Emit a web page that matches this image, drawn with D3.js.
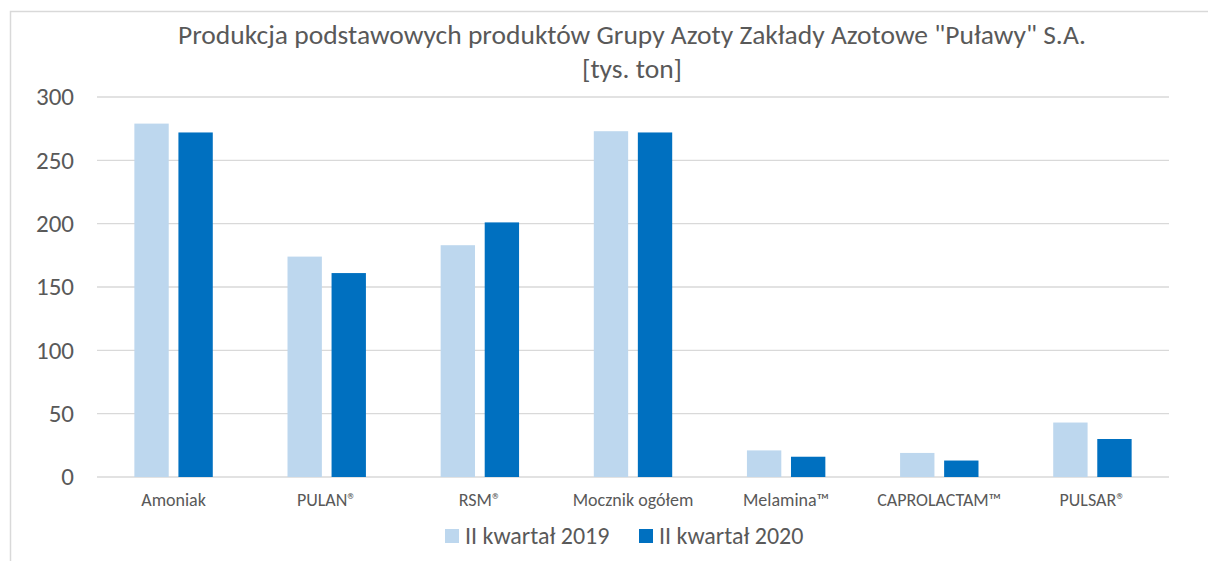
<!DOCTYPE html>
<html><head><meta charset="utf-8">
<script src="https://cdn.jsdelivr.net/npm/d3@7"></script>
<style>
body{margin:0;background:#fff;}
svg{display:block;font-family:Carlito,"Liberation Sans Narrow","Open Sans",sans-serif;}
</style></head><body>
<svg id="c" width="1208" height="561"></svg>
<script>
const categories = ["Amoniak","PULAN®","RSM®","Mocznik ogółem","Melamina™","CAPROLACTAM™","PULSAR®"];
const series2019 = [279,174,183,273,21,19,43];
const series2020 = [272,161,201,272,16,13,30];
const seriesNames = ["II kwartał 2019","II kwartał 2020"];
const colors = ["#BDD7EE","#0070C0"];
const yTicks = [0,50,100,150,200,250,300];
const titleLines = ['Produkcja podstawowych produktów Grupy Azoty Zakłady Azotowe "Puławy" S.A.','[tys. ton]'];

(function(){
const svg = d3.select("#c");
svg.append("path").attr("d","M10.5,561 V11.5 H1208").attr("fill","none").attr("stroke","#D9D9D9").attr("stroke-width",1.5);

const pL=97, pR=1169, pT=97, pB=477;
const x0 = d3.scaleBand().domain(categories).range([pL,pR]);
const bw = x0.bandwidth();
const x1 = d3.scaleBand().domain([0,1]).range([0.244*bw,0.756*bw]).paddingInner(0.22);
const y = d3.scaleLinear().domain([0,300]).range([pB,pT]);

svg.append("g").selectAll("line").data(yTicks).join("line")
  .attr("x1",pL).attr("x2",pR).attr("y1",d=>y(d)).attr("y2",d=>y(d))
  .attr("stroke","#D9D9D9").attr("stroke-width",1.3);

svg.append("g").selectAll("text").data(yTicks).join("text")
  .attr("x",74).attr("y",d=>y(d)).attr("dy","0.33em").attr("text-anchor","end")
  .attr("font-size",25).attr("fill","#595959").text(d=>d);

[series2019, series2020].forEach((vals,si)=>{
  svg.append("g").selectAll("rect").data(vals).join("rect")
    .attr("x",(d,i)=>x0(categories[i])+x1(si))
    .attr("width",x1.bandwidth())
    .attr("y",d=>y(d)).attr("height",d=>y(0)-y(d))
    .attr("fill",colors[si]);
});

svg.append("g").selectAll("text").data(categories).join("text")
  .attr("x",d=>x0(d)+bw/2).attr("y",506)
  .attr("text-anchor","middle").attr("font-size",18).attr("fill","#595959").text(d=>d);

svg.append("text").attr("x",632).attr("y",43.5).attr("text-anchor","middle")
  .attr("font-size",27.5).attr("fill","#595959").text(titleLines[0]);
svg.append("text").attr("x",632).attr("y",78).attr("text-anchor","middle")
  .attr("font-size",27.5).attr("fill","#595959").text(titleLines[1]);

const legX=[445,639];
seriesNames.forEach((n,i)=>{
  svg.append("rect").attr("x",legX[i]).attr("y",529).attr("width",14).attr("height",14).attr("fill",colors[i]);
  svg.append("text").attr("x",legX[i]+20).attr("y",544).attr("font-size",24).attr("fill","#595959").text(n);
});
})();
</script></body></html>
